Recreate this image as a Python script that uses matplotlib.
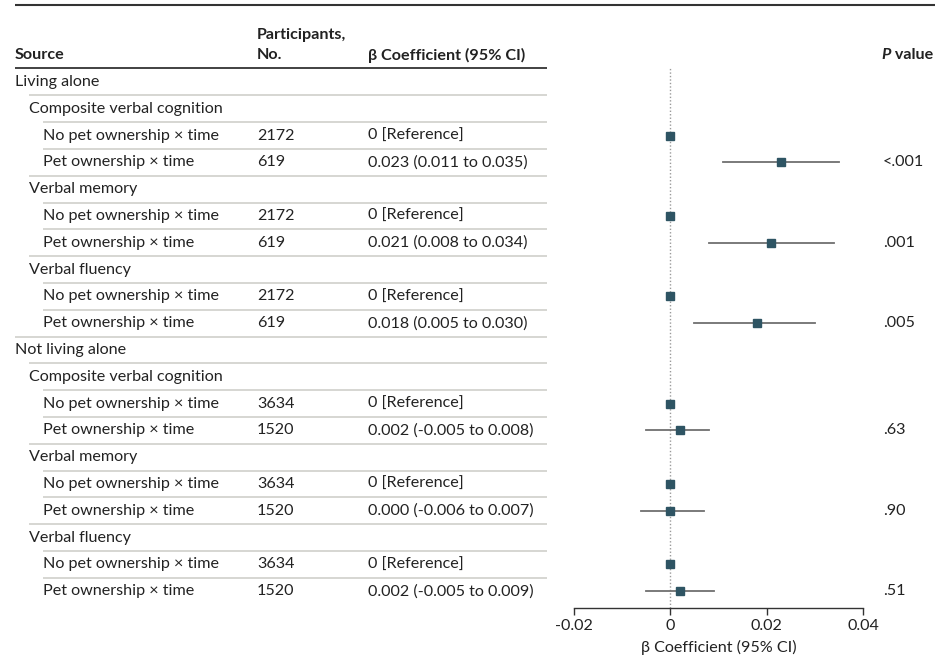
import matplotlib.pyplot as plt

# data
groups = ["Living alone", "Not living alone"]
outcomes = ["Composite verbal cognition", "Verbal memory", "Verbal fluency"]
arms = ["No pet ownership × time", "Pet ownership × time"]
n_counts = [[2172, 619], [3634, 1520]]
estimates = [[0.023, 0.021, 0.018], [0.002, 0.000, 0.002]]
ci_low = [[0.011, 0.008, 0.005], [-0.005, -0.006, -0.005]]
ci_high = [[0.035, 0.034, 0.030], [0.008, 0.007, 0.009]]
ci_text = [["0.023 (0.011 to 0.035)", "0.021 (0.008 to 0.034)", "0.018 (0.005 to 0.030)"],
           ["0.002 (-0.005 to 0.008)", "0.000 (-0.006 to 0.007)", "0.002 (-0.005 to 0.009)"]]
p_values = [["<.001", ".001", ".005"], [".63", ".90", ".51"]]
x_ticks = [-0.02, 0, 0.02, 0.04]
x_tick_labels = ["-0.02", "0", "0.02", "0.04"]

FONT = "Lato"
TEXT = "#222222"
MARKER = "#2e5463"
plt.rcParams["font.family"] = [FONT, "DejaVu Sans"]

# flatten into table rows
rows = []
for g, group in enumerate(groups):
    rows.append(dict(label=group, level=0))
    for o, outcome in enumerate(outcomes):
        rows.append(dict(label=outcome, level=1))
        rows.append(dict(label=arms[0], level=2, n=n_counts[g][0], ci="0 [Reference]",
                         est=0.0))
        rows.append(dict(label=arms[1], level=2, n=n_counts[g][1], ci=ci_text[g][o],
                         est=estimates[g][o], lo=ci_low[g][o], hi=ci_high[g][o],
                         p=p_values[g][o]))

# layout in pixels
W, H = 935, 660
row_top, row_h = 82, 26.8
indent = [15, 29, 43]
col_n, col_ci, col_p = 257, 368, 883
table_right = 547
plot_left, plot_right = 574, 863
plot_top, plot_bottom = 68, 608
fs = 11.6

fig = plt.figure(figsize=(W / 100, H / 100), dpi=100)
ax = fig.add_axes([0, 0, 1, 1])
ax.set_xlim(0, W)
ax.set_ylim(H, 0)
ax.axis("off")

# header
ax.plot([15, W], [5, 5], color="#333333", lw=1.5, solid_capstyle="butt")
ax.plot([15, table_right], [plot_top, plot_top], color="#333333", lw=1.3,
        solid_capstyle="butt")
hdr = dict(fontsize=fs, fontweight="bold", color=TEXT, va="center")
ax.text(indent[0], 55, "Source", **hdr)
ax.text(col_n, 35, "Participants,", **hdr)
ax.text(col_n, 55, "No.", **hdr)
ax.text(col_ci, 55, "β Coefficient (95% CI)", **hdr)
t_val = ax.text(933, 55, " value", ha="right", **hdr)
ax.annotate("P", xy=(0, 0), xycoords=t_val, ha="right", va="bottom",
            fontsize=fs, fontweight="bold", fontstyle="italic", color=TEXT)

ys = [row_top + i * row_h for i in range(len(rows))]
for i, (r, y) in enumerate(zip(rows, ys)):
    ax.text(indent[r["level"]], y, r["label"], fontsize=fs, color=TEXT, va="center")
    if "n" in r:
        ax.text(col_n, y, str(r["n"]), fontsize=fs, color=TEXT, va="center")
        ax.text(col_ci, y, r["ci"], fontsize=fs, color=TEXT, va="center")
    if "p" in r:
        ax.text(col_p, y, r["p"], fontsize=fs, color=TEXT, va="center")
    if i + 1 < len(rows):
        x0 = indent[rows[i + 1]["level"]]
        ax.plot([x0, table_right], [y + row_h / 2] * 2, color="#cfcfcb", lw=1.2,
                solid_capstyle="butt")

# forest plot, y in the same pixel units as the table
fax = fig.add_axes([plot_left / W, 1 - plot_bottom / H,
                    (plot_right - plot_left) / W, (plot_bottom - plot_top) / H])
fax.set_xlim(x_ticks[0], x_ticks[-1])
fax.set_ylim(plot_bottom, plot_top)
fax.patch.set_visible(False)
fax.axvline(0, color="#9a9a9a", lw=1, ls=(0, (1, 1.5)), zorder=1)
for r, y in zip(rows, ys):
    if "est" not in r:
        continue
    if "lo" in r:
        fax.plot([r["lo"], r["hi"]], [y, y], color="#6f6f6f", lw=1.3, zorder=2)
    fax.plot(r["est"], y, marker="s", ms=6, color=MARKER, zorder=3)

for side in ["top", "right", "left"]:
    fax.spines[side].set_visible(False)
fax.spines["bottom"].set_color("#333333")
fax.spines["bottom"].set_linewidth(1)
fax.set_yticks([])
fax.set_xticks(x_ticks)
fax.set_xticklabels(x_tick_labels)
fax.tick_params(axis="x", length=5, width=1, color="#333333", labelsize=fs,
                labelcolor=TEXT, pad=3)
fax.set_xlabel("β Coefficient (95% CI)", fontsize=fs, color=TEXT, labelpad=5)

fig.savefig("out.png", dpi=100)
